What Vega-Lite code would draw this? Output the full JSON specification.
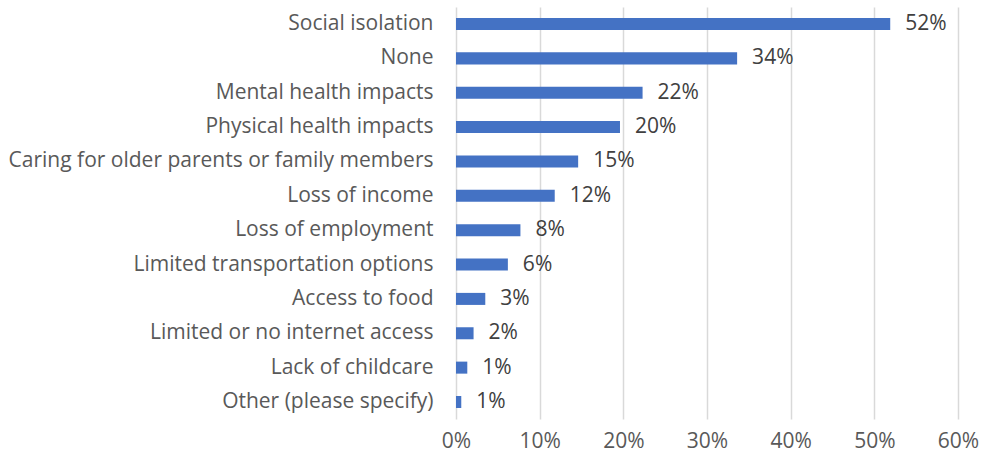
{
  "$schema": "https://vega.github.io/schema/vega-lite/v6.json",
  "autosize": {"type": "none"},
  "width": 502,
  "height": 412,
  "padding": {"left": 456, "top": 7, "right": 24, "bottom": 43},
  "background": "white",
  "config": {"view": {"stroke": null}, "font": "Open Sans"},
  "data": {
    "values": [
      {"item": "Social isolation", "value": 0.519, "label": "52%"},
      {"item": "None", "value": 0.336, "label": "34%"},
      {"item": "Mental health impacts", "value": 0.223, "label": "22%"},
      {"item": "Physical health impacts", "value": 0.196, "label": "20%"},
      {"item": "Caring for older parents or family members", "value": 0.146, "label": "15%"},
      {"item": "Loss of income", "value": 0.118, "label": "12%"},
      {"item": "Loss of employment", "value": 0.077, "label": "8%"},
      {"item": "Limited transportation options", "value": 0.062, "label": "6%"},
      {"item": "Access to food", "value": 0.035, "label": "3%"},
      {"item": "Limited or no internet access", "value": 0.021, "label": "2%"},
      {"item": "Lack of childcare", "value": 0.0135, "label": "1%"},
      {"item": "Other (please specify)", "value": 0.0063, "label": "1%"}
    ]
  },
  "encoding": {
    "y": {
      "field": "item", "type": "nominal", "sort": null,
      "scale": {"paddingInner": 0.65, "paddingOuter": 0.32},
      "axis": {"title": null, "ticks": false, "domain": false, "labelFontSize": 21, "labelColor": "#595959", "labelPadding": 23, "labelLimit": 500}
    },
    "x": {
      "field": "value", "type": "quantitative",
      "scale": {"domain": [0, 0.6], "nice": false},
      "axis": {"title": null, "format": ".0%", "values": [0, 0.1, 0.2, 0.3, 0.4, 0.5, 0.6], "ticks": false, "domain": false, "grid": true, "gridColor": "#d9d9d9", "gridWidth": 1.5, "labelFlush": false, "labelFontSize": 21, "labelColor": "#595959", "labelPadding": 11}
    }
  },
  "layer": [
    {"mark": {"type": "bar", "color": "#4472c4"}},
    {"mark": {"type": "text", "align": "left", "dx": 15, "fontSize": 21, "color": "#404040"}, "encoding": {"text": {"field": "label"}}}
  ]
}
